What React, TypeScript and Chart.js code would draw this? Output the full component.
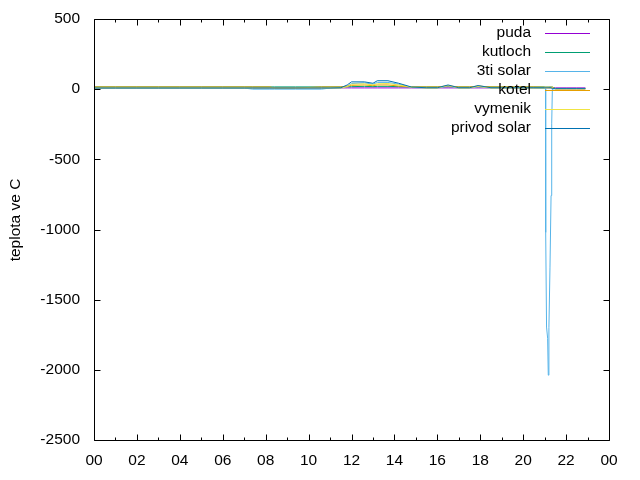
import React, { useEffect, useRef } from 'react';
import { Chart, registerables } from 'chart.js';

Chart.register(...registerables);

// time of day in hours
const hours = [0, 1, 2, 3, 4, 5, 6, 7, 7.4, 8.2, 8.4, 9.4, 10.6, 11, 11.5, 11.8, 12, 12.6, 13, 13.2, 13.7, 14.2, 14.8, 15.5, 16, 16.5, 17, 17.5, 17.9, 18.5, 19, 19.5, 20, 20.5, 21, 21.04, 21.05, 21.09, 21.14, 21.17, 21.2, 21.25, 21.3, 21.33, 21.36, 21.5, 22, 22.5, 22.9];

const puda = [9, 9, 9, 9, 9, 9, 9, 9, 9, 9, 9, 9, 9, 9, 9, 9, 9, 9, 9, 9, 9, 9, 9, 9, 9, 9, 9, 9, 9, 9, 9, 9, 9, 9, 9, 9, 9, 9, 9, 9, 9, 9, 9, 9, 9, 9, 9, 9, 9];
const kutloch = [16, 16, 16, 16, 16, 16, 16, 16, 16, 16, 16, 16, 16, 16, 16, 17, 18, 20, 18, 20, 20, 18, 16, 16, 16, 18, 16, 16, 17, 16, 16, 16, 16, 16, 16, 15, 15, 15, 15, 15, 15, 15, 15, 15, 15, 5, 5, 5, 5];
const tretiSolar = [8, 8, 8, 8, 8, 8, 8, 8, 0, 0, 0, 0, 0, 8, 8, 20, 40, 45, 35, 48, 48, 35, 12, 8, 8, 22, 8, 8, 18, 8, 8, 8, 8, 8, 5, 5, -1021, -1695, -1775, -2038, -1700, -1268, -758, -247, 2, 3, 3, 3, 3];
const kotel = [16, 16, 16, 16, 16, 16, 16, 16, 16, 16, 8, 8, 16, 16, 16, 22, 27, 30, 25, 30, 30, 22, 16, 16, 16, 24, 16, 16, 22, 16, 16, 16, 16, 16, 14, 14, 14, 14, 14, 14, 14, 14, 14, 14, 14, 1, 1, 1, 1];
const vymenik = [8, 8, 8, 8, 8, 8, 8, 8, 8, 8, 8, 8, 8, 8, 8, 18, 35, 38, 30, 38, 40, 30, 14, 8, 8, 26, 8, 8, 20, 8, 8, 8, 8, 8, 8, 8, 8, 8, 8, 8, 8, 8, 8, 8, 8, 4, 4, 4, 4];
const privodSolar = [8, 8, 8, 8, 8, 8, 8, 8, 8, 8, 8, 8, 8, 8, 10, 30, 52, 52, 42, 60, 60, 42, 15, 10, 10, 30, 10, 10, 26, 10, 10, 10, 10, 10, 10, 10, 10, 10, 10, 10, 10, 10, 10, 10, 4, 4, 4, 4, 4];

const seriesNames = ['puda', 'kutloch', '3ti solar', 'kotel', 'vymenik', 'privod solar'];
const seriesValues = [puda, kutloch, tretiSolar, kotel, vymenik, privodSolar];
const seriesColors = ['#9400d3', '#009e73', '#56b4e9', '#e69f00', '#f0e442', '#0072b2'];

const xMajorHours = [0, 2, 4, 6, 8, 10, 12, 14, 16, 18, 20, 22, 24];
const xTickLabels = ['00', '02', '04', '06', '08', '10', '12', '14', '16', '18', '20', '22', '00'];
const xMinorHours = [1, 3, 5, 7, 9, 11, 13, 15, 17, 19, 21, 23];
const yTickValues = [500, 0, -500, -1000, -1500, -2000, -2500];
const yTitle = 'teplota ve C';

const FONT = '15.5px "Liberation Sans", Arial, sans-serif';

const frame = {
  id: 'gnuplotFrame',
  afterDatasetsDraw(chart: any) {
    const { ctx, chartArea: a, scales } = chart;
    const x = scales.x;
    const y = scales.y;
    ctx.save();
    ctx.strokeStyle = '#000';
    ctx.lineWidth = 1;
    const L = a.left + 0.5, R = a.right + 0.5, T = a.top + 0.5, B = a.bottom + 0.5;
    ctx.beginPath();
    ctx.moveTo(L, T); ctx.lineTo(R, T); ctx.lineTo(R, B); ctx.lineTo(L, B); ctx.closePath();
    ctx.stroke();
    const major = 6, minor = 3;
    ctx.beginPath();
    xMajorHours.forEach((h) => {
      const px = Math.round(x.getPixelForValue(h)) + 0.5;
      ctx.moveTo(px, B); ctx.lineTo(px, B - major);
      ctx.moveTo(px, T); ctx.lineTo(px, T + major);
    });
    xMinorHours.forEach((h) => {
      const px = Math.round(x.getPixelForValue(h)) + 0.5;
      ctx.moveTo(px, B); ctx.lineTo(px, B - minor);
      ctx.moveTo(px, T); ctx.lineTo(px, T + minor);
    });
    yTickValues.forEach((v) => {
      const py = Math.round(y.getPixelForValue(v)) + 0.5;
      ctx.moveTo(L, py); ctx.lineTo(L + major, py);
      ctx.moveTo(R, py); ctx.lineTo(R - major, py);
    });
    ctx.stroke();

    ctx.fillStyle = '#000';
    ctx.font = FONT;
    ctx.textBaseline = 'middle';
    ctx.textAlign = 'center';
    xMajorHours.forEach((h, i) => {
      ctx.fillText(xTickLabels[i], x.getPixelForValue(h), 461);
    });
    ctx.textAlign = 'right';
    yTickValues.forEach((v) => {
      ctx.fillText(String(v), 80, y.getPixelForValue(v));
    });
    ctx.save();
    ctx.translate(16, 220);
    ctx.rotate(-Math.PI / 2);
    ctx.textAlign = 'center';
    ctx.fillText(yTitle, 0, 0);
    ctx.restore();

    // legend
    chart.data.datasets.forEach((ds: any, i: number) => {
      const ly = 33 + i * 19;
      ctx.fillStyle = '#000';
      ctx.textAlign = 'right';
      ctx.fillText(ds.label, 531, ly);
      ctx.strokeStyle = ds.borderColor;
      ctx.beginPath();
      ctx.moveTo(545, ly + 0.5);
      ctx.lineTo(590, ly + 0.5);
      ctx.stroke();
    });
    ctx.restore();
  },
};

export default function App() {
  const ref = useRef<HTMLCanvasElement>(null);
  useEffect(() => {
    const chart = new Chart(ref.current as HTMLCanvasElement, {
      type: 'line',
      data: {
        datasets: seriesNames.map((name, i) => ({
          label: name,
          data: hours.map((h, j) => ({ x: h, y: seriesValues[i][j] })),
          borderColor: seriesColors[i],
          backgroundColor: seriesColors[i],
          borderWidth: 1,
          pointRadius: 0,
          tension: 0,
          fill: false,
          order: seriesNames.length - i,
        })),
      },
      options: {
        responsive: false,
        animation: false,
        events: [],
        layout: { padding: { left: 94, right: 31, top: 19, bottom: 40 } },
        scales: {
          x: { type: 'linear', min: 0, max: 24, display: false },
          y: { type: 'linear', min: -2500, max: 500, display: false },
        },
        plugins: { legend: { display: false }, tooltip: { enabled: false } },
      },
      plugins: [frame],
    } as any);
    return () => chart.destroy();
  }, []);
  return (
    <div style={{ position: 'absolute', left: 0, top: 0, width: 640, height: 480, background: '#fff' }}>
      <canvas ref={ref} width={640} height={480} style={{ width: 640, height: 480, display: 'block' }} />
    </div>
  );
}
